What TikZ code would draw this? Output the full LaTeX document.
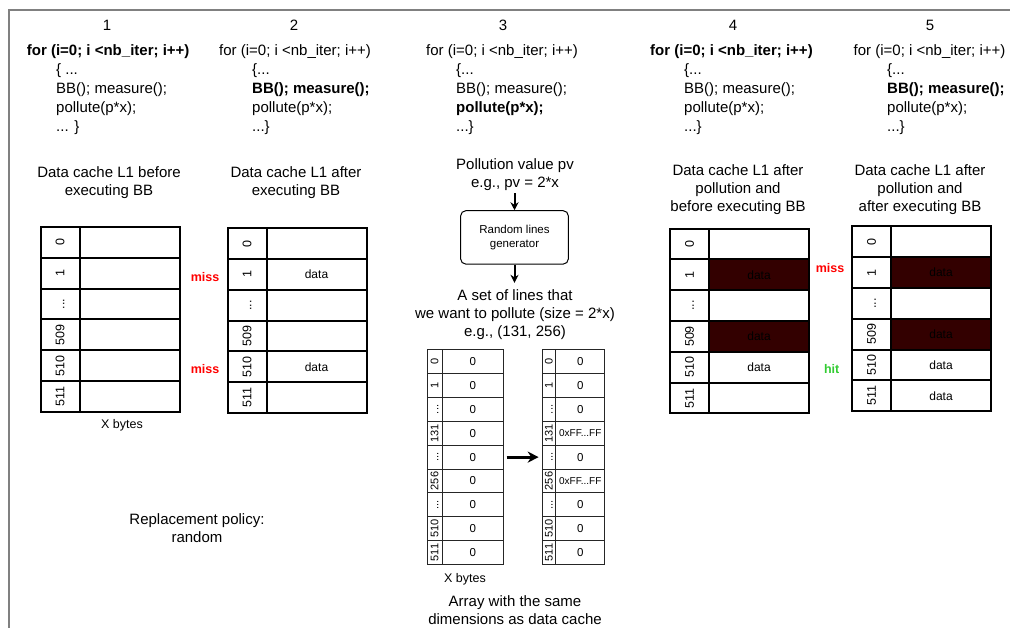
\documentclass[tikz,border=0pt]{standalone}
\usepackage{fontspec}
\setmainfont{Liberation Sans}
\usepackage{graphicx}
\usetikzlibrary{arrows.meta}
\definecolor{frameg}{RGB}{128,128,128}
\definecolor{polluted}{RGB}{51,0,0}
\definecolor{missred}{RGB}{255,0,0}
\definecolor{hitgreen}{RGB}{51,204,51}
\newcommand\vdts{...}
\newcommand\ffval{{\fontsize{10}{12}\selectfont 0xFF...FF}}
% cache table: #1 name, #2 x, #3 y, #4 list idx/content/fill
\newcommand\cachetab[4]{%
  \foreach \ix/\ct/\fl [count=\r from 0] in {#4} {
    \node[cidx] (#1i\r) at (#2, #3+\r*30.8) {\rotatebox{90}{\vphantom{0}\ix}};
    \node[cdat, fill=\fl] (#1d\r) at (#2+39, #3+\r*30.8) {\ct};
  }%
}
% array: #1 name, #2 x, #3 y, #4 index width, #5 data width, #6 list
\newcommand\arrtab[6]{%
  \foreach \ix/\ct [count=\r from 0] in {#6} {
    \node[aidx, minimum width=#4] (#1i\r) at (#2, #3+\r*23.85) {\rotatebox{90}{\vphantom{0}\ix}};
    \node[adat, minimum width=#5] (#1d\r) at (#2+#4, #3+\r*23.85) {\ct};
  }%
}
\begin{document}
\begin{tikzpicture}[x=1pt,y=-1pt,
  code/.style={anchor=base west, inner sep=0pt, font=\fontsize{15}{17}\selectfont},
  num/.style={inner sep=0pt, font=\fontsize{15}{17}\selectfont},
  txt/.style={inner sep=0pt, align=center, font=\fontsize{15}{18}\selectfont},
  small/.style={inner sep=0pt, font=\fontsize{12.5}{15}\selectfont},
  cidx/.style={draw, line width=2pt, anchor=north west, minimum width=39, minimum height=30.8, inner sep=0pt, font=\fontsize{12.5}{15}\selectfont},
  cdat/.style={draw, line width=2pt, anchor=north west, minimum width=100, minimum height=30.8, inner sep=0pt, font=\fontsize{12}{14}\selectfont},
  aidx/.style={draw=black!85, line width=1pt, anchor=north west, minimum height=23.85, inner sep=0pt, font=\fontsize{11}{13}\selectfont},
  adat/.style={draw=black!85, line width=1pt, anchor=north west, minimum height=23.85, inner sep=0pt, font=\fontsize{11.5}{13}\selectfont},
  miss/.style={inner sep=0pt, text=missred, font=\fontsize{12.5}{15}\selectfont\bfseries},
  hit/.style={inner sep=0pt, text=hitgreen, font=\fontsize{12.5}{15}\selectfont\bfseries},
  arr/.style={line width=2pt, -{Stealth[length=8pt,width=8pt]}},
  bigarr/.style={line width=3pt, -{Stealth[length=11pt,width=11pt]}}
]
\useasboundingbox (0,0) rectangle (1010,628);
% frame
\draw[frameg, line width=2pt] (9,628) -- (9,10) -- (1010,10);

% step numbers
\node[num] (n1) at (107,25) {1};
\node[num] (n2) at (294,25) {2};
\node[num] (n3) at (503,25) {3};
\node[num] (n4) at (733,25) {4};
\node[num] (n5) at (930,25) {5};

% code block 1
\node[code] (c1a) at (26.7,55.5) {\bfseries for (i=0; i <nb\_iter; i++)};
\node[code] (c1b) at (56,74.5) {\{ ...};
\node[code] (c1c) at (56,93.5) {BB(); measure();};
\node[code] (c1d) at (56,112.5) {pollute(p*x);};
\node[code] (c1e) at (56,131.5) {... \}};
% code block 2
\node[code] (c2a) at (219,55.5) {for (i=0; i <nb\_iter; i++)};
\node[code] (c2b) at (252,74.5) {\{...};
\node[code] (c2c) at (252,93.5) {\bfseries BB(); measure();};
\node[code] (c2d) at (252,112.5) {pollute(p*x);};
\node[code] (c2e) at (252,131.5) {...\}};
% code block 3
\node[code] (c3a) at (426,55.5) {for (i=0; i <nb\_iter; i++)};
\node[code] (c3b) at (456,74.5) {\{...};
\node[code] (c3c) at (456,93.5) {BB(); measure();};
\node[code] (c3d) at (456,112.5) {\bfseries pollute(p*x);};
\node[code] (c3e) at (456,131.5) {...\}};
% code block 4
\node[code] (c4a) at (650,55.5) {\bfseries for (i=0; i <nb\_iter; i++)};
\node[code] (c4b) at (684,74.5) {\{...};
\node[code] (c4c) at (684,93.5) {BB(); measure();};
\node[code] (c4d) at (684,112.5) {pollute(p*x);};
\node[code] (c4e) at (684,131.5) {...\}};
% code block 5
\node[code] (c5a) at (853.5,55.5) {for (i=0; i <nb\_iter; i++)};
\node[code] (c5b) at (887,74.5) {\{...};
\node[code] (c5c) at (887,93.5) {\bfseries BB(); measure();};
\node[code] (c5d) at (887,112.5) {pollute(p*x);};
\node[code] (c5e) at (887,131.5) {...\}};

% titles
\node[txt] (t1) at (109,182.5) {Data cache L1 before\\executing BB};
\node[txt] (t2) at (296,182.5) {Data cache L1 after\\executing BB};
\node[txt] (t4) at (738,190) {Data cache L1 after\\pollution and\\before executing BB};
\node[txt] (t5) at (920,190) {Data cache L1 after\\pollution and\\after executing BB};

% cache tables
\cachetab{A}{39.5}{226}{0//none,1//none,\vdts//none,509//none,510//none,511//none}
\cachetab{B}{226.5}{227.3}{0//none,1/data/none,\vdts//none,509//none,510/data/none,511//none}
\cachetab{D}{669}{227.7}{0//none,1/data/polluted,\vdts//none,509/data/polluted,510/data/none,511//none}
\cachetab{E}{851}{225.5}{0//none,1/data/polluted,\vdts//none,509/data/polluted,510/data/none,511/data/none}

\node[small] (xb1) at (122,425) {X bytes};

% miss / hit labels
\node[miss] (m1) at (205,276.7) {miss};
\node[miss] (m2) at (205,369) {miss};
\node[miss] (m3) at (830,268.3) {miss};
\node[hit] (h1) at (831.7,369) {hit};

% pollution generator
\node[txt] (pv) at (515,175) {Pollution value pv\\e.g., pv = 2*x};
\node[draw, line width=1pt, rounded corners=5pt, minimum width=107.6, minimum height=53.3, inner sep=0pt, align=center, font=\fontsize{11.5}{14.5}\selectfont] (gen) at (514.5,237.4) {Random lines\\generator};
\node[txt] (set) at (515,315) {A set of lines that\\we want to pollute (size = 2*x)\\e.g., (131, 256)};
\draw[arr, shorten <=2pt] (gen.north |- pv.south) -- (gen.north);
\draw[arr, shorten >=7pt] (gen.south) -- (gen.south |- set.north);

% arrays
\arrtab{L}{426.7}{349.3}{15}{61}{0/0,1/0,\vdts/0,131/0,\vdts/0,256/0,\vdts/0,510/0,511/0}
\arrtab{R}{541.7}{349.3}{13.4}{49.3}{0/0,1/0,\vdts/0,131/\ffval,\vdts/0,256/\ffval,\vdts/0,510/0,511/0}
\draw[bigarr, shorten <=3pt, shorten >=3pt] (Ld4.east) -- (Ri4.west);
\node[small] (xb2) at (465,579.3) {X bytes};
\node[txt] (arrlab) at (515,610.5) {Array with the same\\dimensions as data cache};

% replacement policy
\node[txt] (repl) at (197,528.5) {Replacement policy:\\random};
\end{tikzpicture}
\end{document}
